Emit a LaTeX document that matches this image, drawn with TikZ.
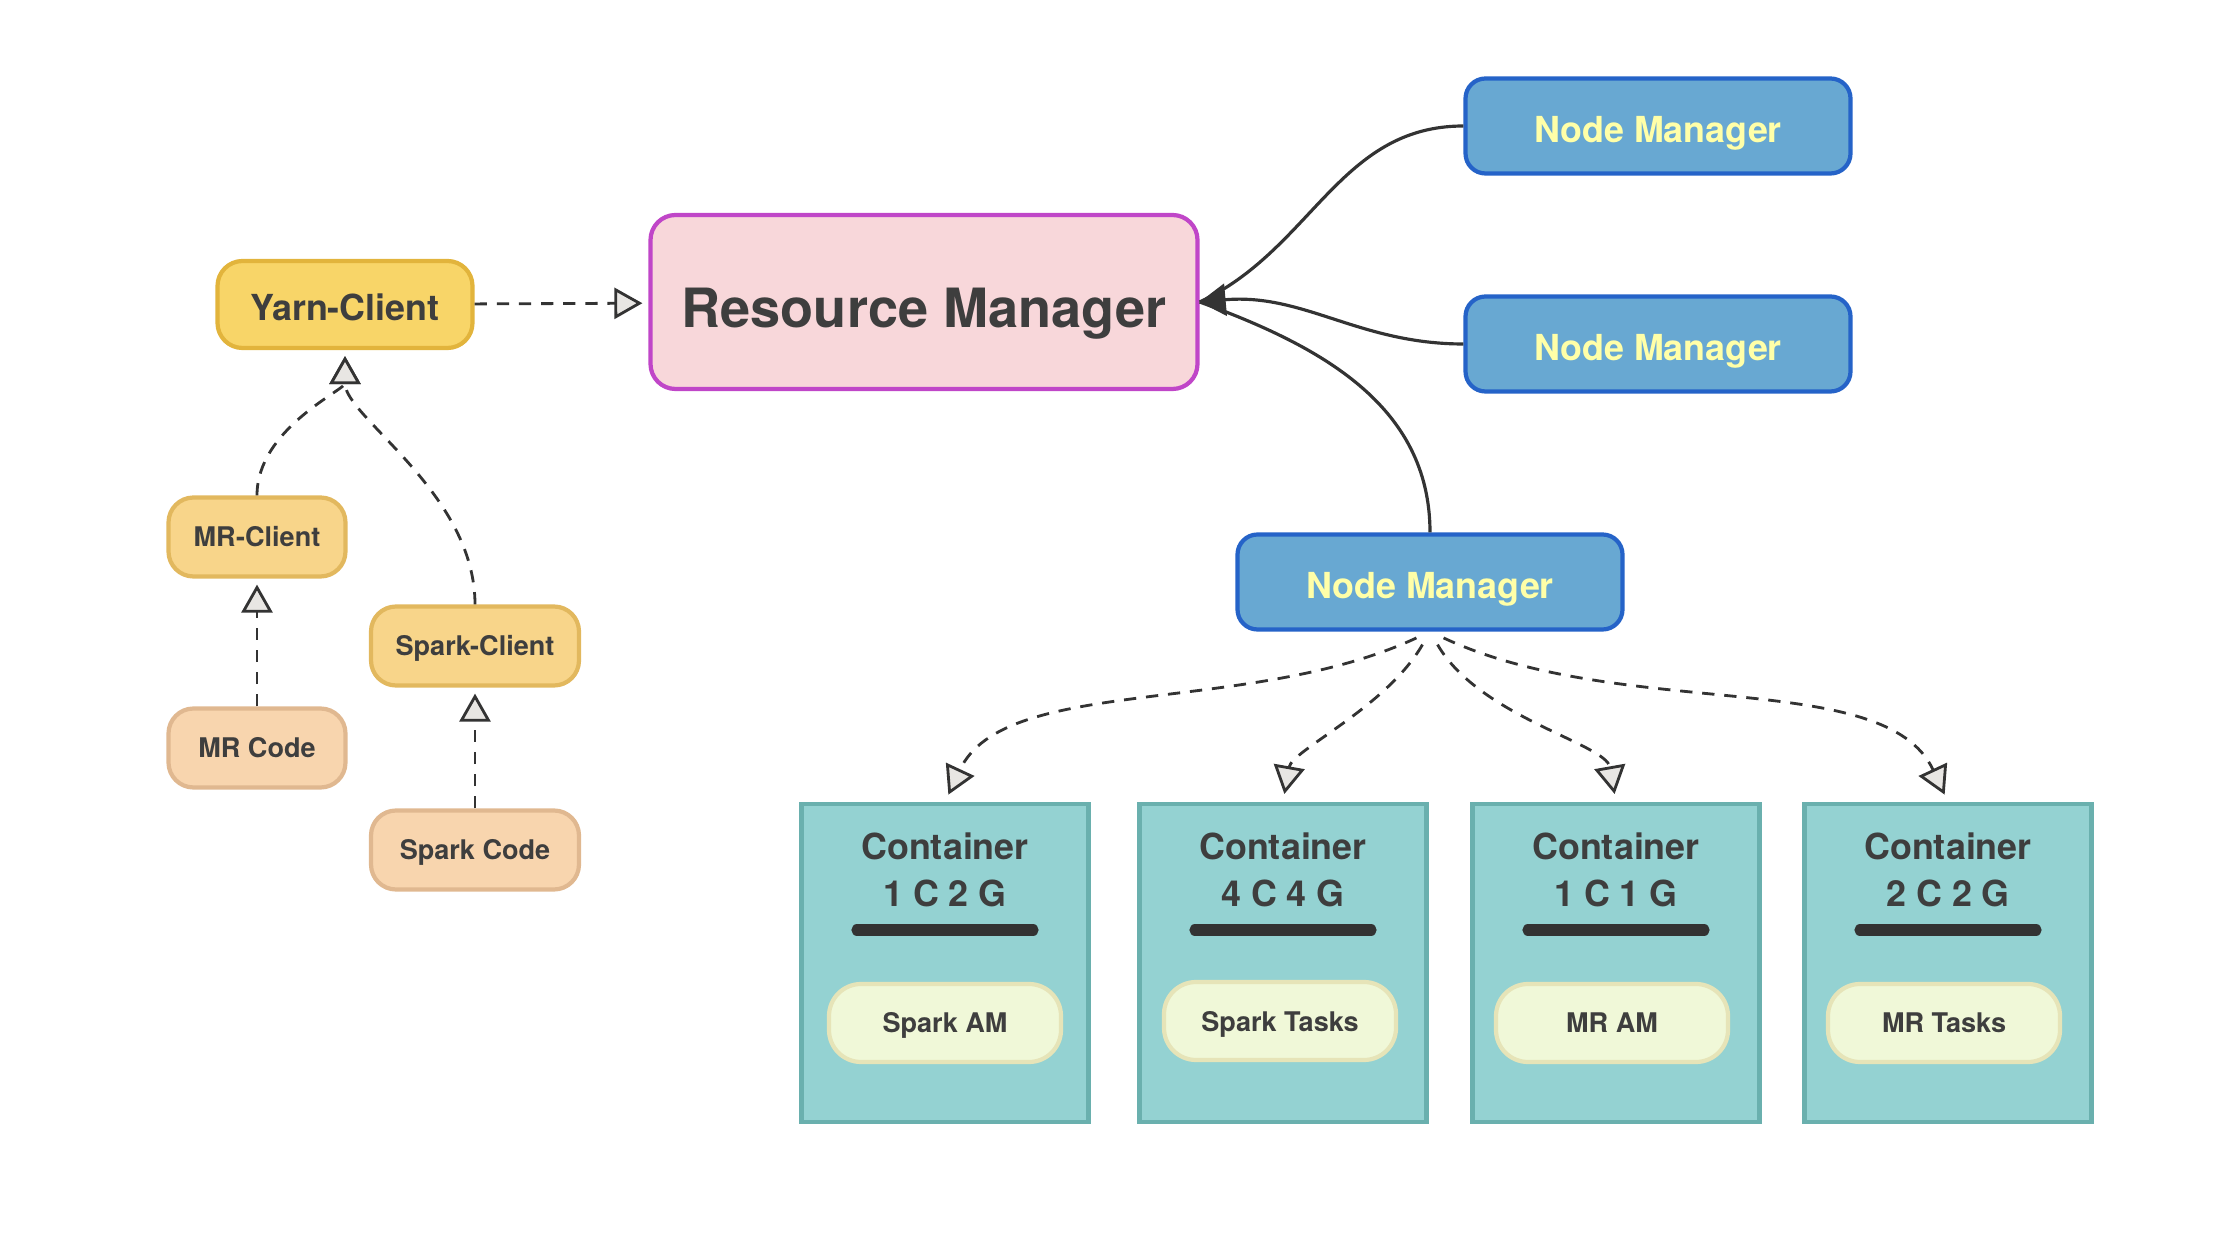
\documentclass[tikz,border=0pt]{standalone}
\usepackage{fontspec}
\setmainfont{TeX Gyre Heros}
\usetikzlibrary{arrows.meta}
\definecolor{ink}{HTML}{333333}
\definecolor{textc}{HTML}{3E3E3E}
\definecolor{tipfill}{HTML}{E8E6E3}
\definecolor{yarnfill}{HTML}{F8D568}
\definecolor{yarnline}{HTML}{E2B43C}
\definecolor{clifill}{HTML}{F8D58A}
\definecolor{cliline}{HTML}{E2B85E}
\definecolor{codefill}{HTML}{F8D5AE}
\definecolor{codeline}{HTML}{E0B890}
\definecolor{rmfill}{HTML}{F8D7DA}
\definecolor{rmline}{HTML}{C046C8}
\definecolor{nmfill}{HTML}{68A8D2}
\definecolor{nmline}{HTML}{2563C8}
\definecolor{nmtext}{HTML}{FFFFA8}
\definecolor{ctfill}{HTML}{94D2D2}
\definecolor{ctline}{HTML}{6AB0AE}
\definecolor{pillfill}{HTML}{F0F8D8}
\definecolor{pillline}{HTML}{E6E4B8}
\begin{document}
\begin{tikzpicture}[
    box/.style={draw, rounded corners=2.5mm, line width=1.2pt, text=textc, text depth=0pt},
    yarn/.style={box, fill=yarnfill, draw=yarnline, minimum width=2.55cm, minimum height=0.87cm,
      text height=0.33cm, font=\bfseries\fontsize{10.2}{12}\selectfont},
    client/.style={box, fill=clifill, draw=cliline, minimum height=0.79cm, text height=0.2cm,
      font=\bfseries\fontsize{7.7}{9}\selectfont},
    code/.style={box, fill=codefill, draw=codeline, minimum height=0.79cm, text height=0.2cm,
      font=\bfseries\fontsize{7.7}{9}\selectfont},
    rm/.style={box, fill=rmfill, draw=rmline, minimum width=5.47cm, minimum height=1.74cm,
      text height=0.52cm, font=\bfseries\fontsize{15.4}{18}\selectfont},
    nm/.style={box, rounded corners=2mm, fill=nmfill, draw=nmline, text=nmtext, minimum width=3.85cm,
      minimum height=0.95cm, text height=0.34cm, font=\bfseries\fontsize{10.2}{12}\selectfont},
    cont/.style={draw=ctline, fill=ctfill, line width=1.2pt, minimum width=2.87cm, minimum height=3.18cm},
    conttext/.style={text=textc, align=center, font=\bfseries\fontsize{10.2}{13.3}\selectfont},
    pill/.style={box, rounded corners=3.2mm, fill=pillfill, draw=pillline, minimum width=2.32cm,
      minimum height=0.78cm, text height=0.2cm, font=\bfseries\fontsize{7.7}{9}\selectfont},
    bar/.style={ink, line width=3.2pt, line cap=round},
    uses/.style={ink, line width=0.8pt, dash pattern=on 3.5pt off 2.8pt,
      -{Triangle[length=2.8mm, width=3.1mm, fill=tipfill]}},
    link/.style={ink, line width=0.9pt},
    reports/.style={link, -{Triangle[length=2.6mm, width=3.2mm]}}
  ]
  \useasboundingbox (0,0) rectangle (22.4,-12.54);

  \node[yarn] (yarn) at (3.45,-3.045) {Yarn-Client};
  \node[rm] (rm) at (9.24,-3.02) {Resource Manager};
  \node[client, minimum width=1.77cm] (mrc) at (2.57,-5.37) {MR-Client};
  \node[client, minimum width=2.08cm] (spc) at (4.75,-6.46) {Spark-Client};
  \node[code, minimum width=1.77cm] (mrcode) at (2.57,-7.48) {MR Code};
  \node[code, minimum width=2.08cm] (spcode) at (4.75,-8.50) {Spark Code};

  \node[nm] (nm1) at (16.58,-1.26) {Node Manager};
  \node[nm] (nm2) at (16.58,-3.44) {Node Manager};
  \node[nm] (nm3) at (14.30,-5.82) {Node Manager};

  \node[cont] (c1) at (9.45,-9.63) {};
  \node[cont] (c2) at (12.83,-9.63) {};
  \node[cont] (c3) at (16.16,-9.63) {};
  \node[cont] (c4) at (19.48,-9.63) {};
  \node[conttext] (c1t) at (9.45,-8.70) {Container\\1 C 2 G};
  \node[conttext] (c2t) at (12.83,-8.70) {Container\\4 C 4 G};
  \node[conttext] (c3t) at (16.16,-8.70) {Container\\1 C 1 G};
  \node[conttext] (c4t) at (19.48,-8.70) {Container\\2 C 2 G};
  \draw[bar] (8.57,-9.30) -- (10.33,-9.30);
  \draw[bar] (11.95,-9.30) -- (13.71,-9.30);
  \draw[bar] (15.28,-9.30) -- (17.04,-9.30);
  \draw[bar] (18.60,-9.30) -- (20.36,-9.30);
  \node[pill] (p1) at (9.45,-10.23) {Spark AM};
  \node[pill] (p2) at (12.80,-10.21) {Spark Tasks};
  \node[pill] (p3) at (16.12,-10.23) {MR AM};
  \node[pill] (p4) at (19.44,-10.23) {MR Tasks};

  \begin{scope}[shorten >=0.6mm]
    \draw[uses] (yarn) -- (rm);
    \draw[uses] (mrc.north) to[out=90, in=-90, in looseness=0.6] (yarn.south);
    \draw[uses] (spc.north) to[out=90, in=-90, in looseness=0.6] (yarn.south);
    \draw[uses] (mrcode) -- (mrc);
    \draw[uses] (spcode) -- (spc);
  \end{scope}

  \begin{scope}[shorten <=1.5mm, shorten >=0.8mm]
    \draw[uses] (nm3.south) to[out=-155, in=65, in looseness=0.7] (c1.north);
    \draw[uses] (nm3.south) to[out=-120, in=80, in looseness=0.6] (c2.north);
    \draw[uses] (nm3.south) to[out=-60, in=100, in looseness=0.6] (c3.north);
    \draw[uses] (nm3.south) to[out=-25, in=115, in looseness=0.7] (c4.north);
  \end{scope}

  \draw[link] (nm1.west) to[out=180, in=25] (rm.east);
  \draw[link] (nm3.north) to[out=90, in=-20] (rm.east);
  \draw[reports] (nm2.west) to[out=180, in=5] (rm.east);
\end{tikzpicture}
\end{document}
